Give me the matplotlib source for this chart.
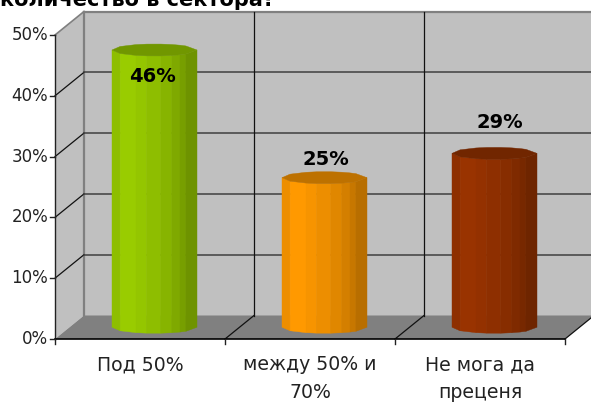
import numpy as np
import matplotlib
matplotlib.use("Agg")
import matplotlib.pyplot as plt
from matplotlib.patches import Polygon
from matplotlib.colors import to_rgb

plt.rcParams['font.family'] = ['DejaVu Sans']

categories = ['Под 50%', 'между 50% и\n70%', 'Не мога да\nпреценя']
values = [46, 25, 29]
value_labels = ['46%', '25%', '29%']
colors = ['#99CC00', '#FF9900', '#993300']
yticks = [0, 10, 20, 30, 40, 50]
title = 'количество в сектора?'
# cylinder facets: edge positions across the width (-1..1) and brightness of each
facet_edges = [-1.0, -0.81, -0.435, -0.18, 0.15, 0.41, 0.60, 0.74, 1.0]
facet_shades = [0.93, 1.0, 0.97, 0.93, 0.88, 0.83, 0.78, 0.72]
# data label offsets from the top of each cylinder, in pixels
label_dx = [-2, 1, 5]
label_dy = [-26, 18, 31]

W, H = 591, 403
fig = plt.figure(figsize=(W / 100, H / 100), dpi=100, facecolor='white')
L, R, T, B = 55, 565, 35, 339
ax = fig.add_axes([L / W, 1 - B / H, (R - L) / W, (B - T) / H])
ax.set_xlim(0, 3)
ax.set_ylim(0, 50)
ax.axis('off')

px_x = 3 / (R - L)
px_y = 50 / (B - T)
DX = 29 * px_x
DY = 23.5 * px_y
n = len(categories)
ymax = yticks[-1]

# walls and floor
ax.add_patch(Polygon([(0, 0), (DX, DY), (DX, ymax + DY), (0, ymax)], fc='#C0C0C0', ec='none', clip_on=False, zorder=1))
ax.add_patch(Polygon([(DX, DY), (n + DX, DY), (n + DX, ymax + DY), (DX, ymax + DY)], fc='#C0C0C0', ec='none', clip_on=False, zorder=1))
ax.add_patch(Polygon([(0, 0), (n, 0), (n + DX, DY), (DX, DY)], fc='#808080', ec='none', clip_on=False, zorder=1))

# wall borders
ax.plot([DX, n + DX], [ymax + DY] * 2, color='#808080', lw=1.6, clip_on=False, zorder=2)
ax.plot([DX, DX], [DY, ymax + DY], color='#808080', lw=1.6, clip_on=False, zorder=2)
ax.plot([0, DX], [ymax, ymax + DY], color='#808080', lw=1.2, clip_on=False, zorder=2)

# horizontal gridlines
for t in yticks[1:-1]:
    ax.plot([0, DX], [t, t + DY], color='#111111', lw=0.9, clip_on=False, zorder=2)
    ax.plot([DX, n + DX], [t + DY, t + DY], color='#404040', lw=1.1, clip_on=False, zorder=2)

# vertical gridlines
for i in range(1, n + 1):
    ax.plot([i, i + DX], [0, DY], color='#111111', lw=0.9, clip_on=False, zorder=2)
    if i < n:
        ax.plot([i + DX, i + DX], [DY, ymax + DY], color='#111111', lw=0.9, clip_on=False, zorder=2)

# axes lines and ticks
ax.plot([0, 0], [0, ymax], color='#222222', lw=1, clip_on=False, zorder=3)
ax.plot([0, n], [0, 0], color='#000000', lw=1.2, clip_on=False, zorder=3)
for t in yticks:
    ax.plot([-5 * px_x, 0], [t, t], color='#222222', lw=1, clip_on=False, zorder=3)
    ax.text(-7 * px_x, t, f'{t}%', ha='right', va='center', fontsize=12, color='#222222', clip_on=False)
for i in range(n + 1):
    ax.plot([i, i], [-5 * px_y, 0], color='#222222', lw=1, clip_on=False, zorder=3)
for i, c in enumerate(categories):
    ax.text(i + 0.5, -16.5 * px_y, c, ha='center', va='top', fontsize=13.6, color='#222222',
            linespacing=1.6, clip_on=False)

# cylinders
half_w = 0.25
ry = 6.0 * px_y
edges = np.array(facet_edges)
bulge = np.sqrt(1 - edges ** 2)
for i, (v, col, lab) in enumerate(zip(values, colors, value_labels)):
    cx = i + 0.5 + DX / 2
    y0 = DY / 2
    y1 = y0 + v - 0.4
    xs = cx + half_w * edges
    off = ry * bulge
    base = np.array(to_rgb(col))
    for k, s in enumerate(facet_shades):
        fc = tuple(base * s)
        ax.add_patch(Polygon([(xs[k], y0 - off[k]), (xs[k + 1], y0 - off[k + 1]),
                              (xs[k + 1], y1 - off[k + 1]), (xs[k], y1 - off[k])],
                             fc=fc, ec=fc, lw=0.3, clip_on=False, zorder=4))
    top = list(zip(xs, y1 - off)) + list(zip(xs[::-1], y1 + off[::-1]))
    tc = tuple(base * 0.74)
    ax.add_patch(Polygon(top, fc=tc, ec=tc, lw=0.3, clip_on=False, zorder=5))
    ax.text(cx + label_dx[i] * px_x, y1 + label_dy[i] * px_y, lab, ha='center', va='center',
            fontsize=14, fontweight='bold', color='black', clip_on=False, zorder=6)

fig.text(275 / W, 1 - 6.5 / H, title, ha='right', va='baseline', fontsize=15, fontweight='bold', color='black')

fig.savefig('out.png', dpi=100)
